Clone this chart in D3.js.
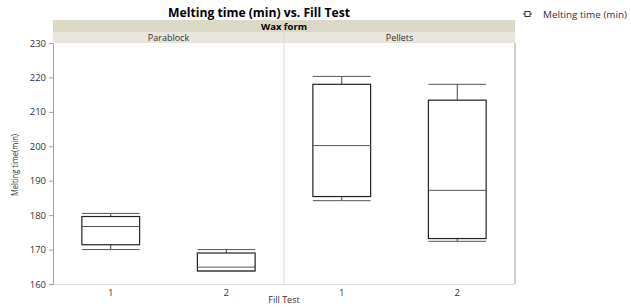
<!DOCTYPE html>
<html>
<head>
<meta charset="utf-8">
<script src="https://cdn.jsdelivr.net/npm/d3@7"></script>
<style>
  body { margin: 0; background: #fff; }
  text { font-family: "Open Sans", "DejaVu Sans", sans-serif; }
</style>
</head>
<body>
<script>
var W = 631, H = 307;

// data
var panels = ["Parablock", "Pellets"];
var fillTests = ["1", "2"];
var whiskerLow  = [[170.0, 163.8], [184.2, 172.4]];
var q1          = [[171.4, 163.8], [185.4, 173.2]];
var medians     = [[176.7, 164.9], [200.2, 187.2]];
var q3          = [[179.6, 169.0], [218.0, 213.4]];
var whiskerHigh = [[180.5, 170.0], [220.3, 218.0]];
var yTicks = [160, 170, 180, 190, 200, 210, 220, 230];

var plot = { left: 53, right: 515, top: 43, bottom: 284 };

var svg = d3.select("body").append("svg")
  .attr("width", W)
  .attr("height", H);

var y = d3.scaleLinear().domain([160, 230]).range([plot.bottom, plot.top]);
var panelX = d3.scaleBand().domain(panels).range([plot.left, plot.right]);

// title
svg.append("text")
  .attr("x", 259).attr("y", 17)
  .attr("text-anchor", "middle")
  .attr("font-size", 11.5).attr("font-weight", "bold")
  .attr("textLength", 182).attr("lengthAdjust", "spacingAndGlyphs")
  .text("Melting time (min) vs. Fill Test");

// strips
svg.append("rect")
  .attr("x", plot.left).attr("y", 20)
  .attr("width", plot.right - plot.left).attr("height", 12)
  .attr("fill", "#dbd8c6");
svg.append("text")
  .attr("x", (plot.left + plot.right) / 2).attr("y", 29.5)
  .attr("text-anchor", "middle")
  .attr("font-size", 9.5).attr("font-weight", "bold")
  .text("Wax form");

panels.forEach(function(p) {
  svg.append("rect")
    .attr("x", panelX(p)).attr("y", 32)
    .attr("width", panelX.bandwidth()).attr("height", 11)
    .attr("fill", "#e8e6dc");
  svg.append("text")
    .attr("x", panelX(p) + panelX.bandwidth() / 2).attr("y", 41)
    .attr("text-anchor", "middle")
    .attr("font-size", 9).attr("fill", "#333")
    .text(p);
});

// panel divider / frame
svg.append("line")
  .attr("x1", panelX("Pellets")).attr("x2", panelX("Pellets"))
  .attr("y1", 32).attr("y2", plot.bottom)
  .attr("stroke", "#d8d8d8");
svg.append("line")
  .attr("x1", plot.right).attr("x2", plot.right)
  .attr("y1", plot.top).attr("y2", plot.bottom)
  .attr("stroke", "#a0a0a0");
svg.append("line")
  .attr("x1", plot.left).attr("x2", plot.right)
  .attr("y1", plot.bottom + 0.5).attr("y2", plot.bottom + 0.5)
  .attr("stroke", "#dcdcdc");

// y axis
var yAxis = svg.append("g")
  .attr("transform", "translate(" + plot.left + ",0)")
  .call(d3.axisLeft(y).tickValues(yTicks).tickSize(4).tickPadding(3));
yAxis.select(".domain").attr("stroke", "#a0a0a0");
yAxis.selectAll(".tick line").attr("stroke", "#a0a0a0");
yAxis.selectAll("text").attr("font-size", 9.5).attr("fill", "#333")
  .style("font-family", "Open Sans, sans-serif");

svg.append("text")
  .attr("transform", "translate(18,165) rotate(-90)")
  .attr("text-anchor", "middle")
  .attr("font-size", 8.5).attr("fill", "#333")
  .attr("textLength", 62).attr("lengthAdjust", "spacingAndGlyphs")
  .text("Melting time(min)");

// boxes
var boxW = panelX.bandwidth() * 0.25;
panels.forEach(function(p, pi) {
  var x = d3.scalePoint().domain(fillTests)
    .range([panelX(p), panelX(p) + panelX.bandwidth()]).padding(0.5);

  fillTests.forEach(function(f, fi) {
    var cx = x(f), g = svg.append("g");
    var x0 = cx - boxW / 2, x1 = cx + boxW / 2;
    // whiskers
    g.append("line")
      .attr("x1", cx).attr("x2", cx)
      .attr("y1", y(whiskerHigh[pi][fi])).attr("y2", y(q3[pi][fi]))
      .attr("stroke", "#444");
    g.append("line")
      .attr("x1", cx).attr("x2", cx)
      .attr("y1", y(q1[pi][fi])).attr("y2", y(whiskerLow[pi][fi]))
      .attr("stroke", "#444");
    g.append("line")
      .attr("x1", x0).attr("x2", x1)
      .attr("y1", y(whiskerHigh[pi][fi])).attr("y2", y(whiskerHigh[pi][fi]))
      .attr("stroke", "#555");
    g.append("line")
      .attr("x1", x0).attr("x2", x1)
      .attr("y1", y(whiskerLow[pi][fi])).attr("y2", y(whiskerLow[pi][fi]))
      .attr("stroke", "#555");
    // box
    g.append("rect")
      .attr("x", x0).attr("y", y(q3[pi][fi]))
      .attr("width", boxW).attr("height", y(q1[pi][fi]) - y(q3[pi][fi]))
      .attr("fill", "#fff").attr("stroke", "#222").attr("stroke-width", 1.2);
    g.append("line")
      .attr("x1", x0).attr("x2", x1)
      .attr("y1", y(medians[pi][fi])).attr("y2", y(medians[pi][fi]))
      .attr("stroke", "#555");
    // tick label
    svg.append("text")
      .attr("x", cx).attr("y", 296)
      .attr("text-anchor", "middle")
      .attr("font-size", 9.5).attr("fill", "#333")
      .text(f);
  });
});

svg.append("text")
  .attr("x", 284).attr("y", 303)
  .attr("text-anchor", "middle")
  .attr("font-size", 9).attr("fill", "#333")
  .text("Fill Test");

// legend
var lg = svg.append("g").attr("transform", "translate(523,14)");
lg.append("line").attr("x1", 0).attr("x2", 9).attr("y1", 0).attr("y2", 0)
  .attr("stroke", "#333");
lg.append("rect").attr("x", 2).attr("y", -2.5).attr("width", 5).attr("height", 5)
  .attr("fill", "#fff").attr("stroke", "#333");
lg.append("text").attr("x", 20).attr("y", 3.5)
  .attr("font-size", 9).attr("fill", "#333")
  .attr("textLength", 84).attr("lengthAdjust", "spacingAndGlyphs")
  .text("Melting time (min)");
</script>
</body>
</html>
